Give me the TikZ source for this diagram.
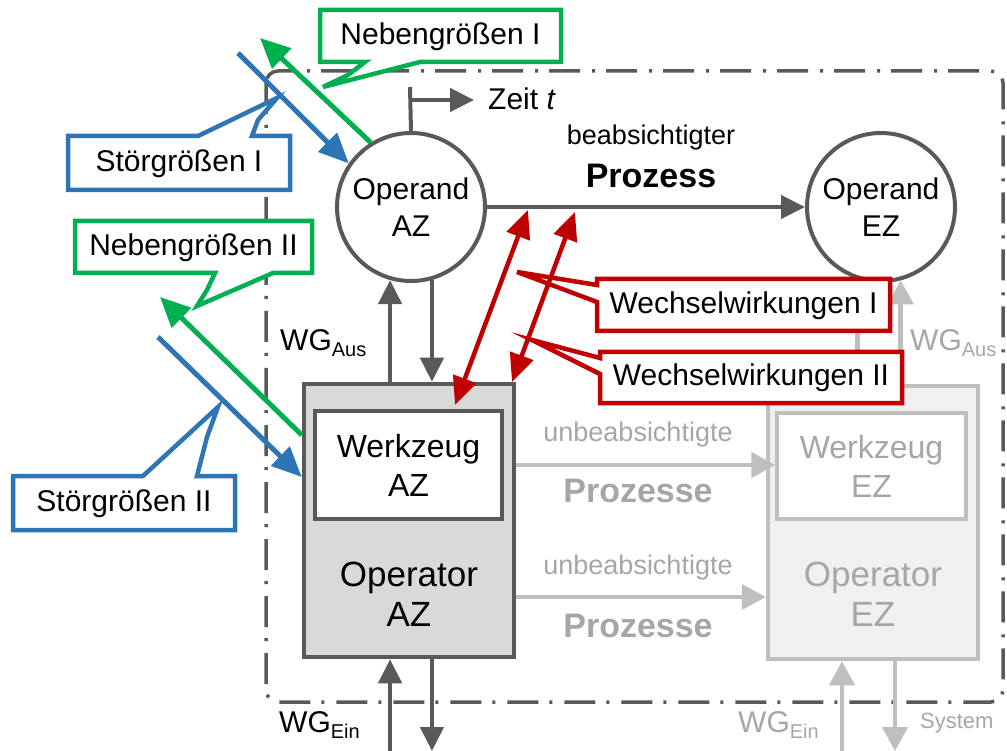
\documentclass[tikz,border=0pt]{standalone}
\usepackage{fontspec}
\setmainfont{Liberation Sans}
\usetikzlibrary{arrows.meta,calc}

\definecolor{dk}{HTML}{595959}
\definecolor{lt}{HTML}{BFBFBF}
\definecolor{lttext}{HTML}{A6A6A6}
\definecolor{blu}{HTML}{2E75B6}
\definecolor{grn}{HTML}{00B050}
\definecolor{rd}{HTML}{C00000}
\definecolor{fillAZ}{HTML}{D9D9D9}
\definecolor{fillEZ}{HTML}{F0F0F0}

\newcommand\wgsub[1]{{\fontsize{20}{24}\selectfont\raisebox{-6pt}{#1}}}

\tikzset{
  fA/.style={font=\fontsize{30}{37}\selectfont},
  fS/.style={font=\fontsize{27}{32}\selectfont},
  fB/.style={font=\fontsize{34}{40}\selectfont\bfseries},
  opcirc/.style={circle, draw=dk, line width=4pt, fill=white, minimum size=148pt,
    inner sep=0pt, align=center, fA},
  oprbox/.style={rectangle, draw=dk, line width=4.5pt, fill=fillAZ, minimum width=210pt,
    minimum height=273pt, inner sep=0pt},
  wzbox/.style={rectangle, draw=dk, line width=3.5pt, fill=white, minimum width=187pt,
    minimum height=108pt, inner sep=0pt, align=center, font=\fontsize{32}{39}\selectfont},
  sysline/.style={draw=dk, line width=3.5pt, rounded corners=12pt,
    dash pattern=on 31pt off 11pt on 3pt off 12pt},
  dkarr/.style={draw=dk, line width=4.5pt, -{Triangle[length=24pt,width=23pt]}},
  ltarr/.style={draw=lt, line width=4.5pt, -{Triangle[length=24pt,width=25pt]}},
  redarr/.style={draw=rd, line width=4.5pt,
    {Triangle[length=28pt,width=24pt]}-{Triangle[length=28pt,width=24pt]}},
  bluarr/.style={draw=blu, line width=5pt, -{Triangle[length=30pt,width=26pt]}},
  grnarr/.style={draw=grn, line width=5pt, -{Triangle[length=30pt,width=27pt]}},
  callB/.style={draw=blu, line width=4.5pt, fill=white, line join=miter},
  callG/.style={draw=grn, line width=4.5pt, fill=white, line join=miter},
  callR/.style={draw=rd, line width=4.5pt, fill=white, line join=miter},
  ctext/.style={fA, inner sep=0pt},
}

\begin{document}
\begin{tikzpicture}[x=1pt,y=-1pt]
\useasboundingbox (0,0) rectangle (1007,751);

% system boundary
\draw[sysline] (266,71) rectangle (1003,702);

% operands and operators
\node[opcirc] (opAZ) at (411,207) {Operand\\AZ};
\node[opcirc] (opEZ) at (881,207) {Operand\\EZ};

\node[oprbox] (oprAZ) at (409,520.5) {};
\node[wzbox] (wzAZ) at (408.5,465) {Werkzeug\\AZ};
\node[font=\fontsize{35}{40}\selectfont, align=center, inner sep=0pt] (oprAZtxt) at (409,594) {Operator\\AZ};

\node[oprbox, draw=lt, fill=fillEZ] (oprEZ) at (873,522.5) {};
\node[wzbox, draw=lt, text=lttext, minimum width=189pt, minimum height=106pt] (wzEZ) at (871.5,466) {Werkzeug\\EZ};
\node[font=\fontsize{35}{40}\selectfont, text=lttext, align=center, inner sep=0pt] (oprEZtxt) at (873,594) {Operator\\EZ};

% intended process and time axis
\draw[dkarr] (opAZ) -- (opEZ);
\coordinate (ztop) at (410,87);
\coordinate (zfork) at (410,100);
\coordinate (zend) at (474,100);
\draw[draw=dk, line width=4pt] (opAZ.north) -- (ztop);
\draw[dkarr] (zfork) -- (zend);
\node[fA, anchor=base west, inner sep=0pt] (zeit) at (488,110) {Zeit \textit{t}};
\node[fS, anchor=base, inner sep=0pt] (beab) at (651,145) {beabsichtigter};
\node[fB, anchor=base, inner sep=0pt] (proz) at (651,188) {Prozess};

% operand <-> operator flows
\coordinate (bot) at (0,751);
\draw[dkarr] (oprAZ.north -| opAZ.-106) -- (opAZ.-106);
\draw[dkarr] (opAZ.-74) -- (oprAZ.north -| opAZ.-74);
\draw[dkarr] (bot -| opAZ.-106) -- (oprAZ.south -| opAZ.-106);
\draw[dkarr] (oprAZ.south -| opAZ.-74) -- (bot -| opAZ.-74);

\draw[ltarr] (opEZ.-108.4) -- (oprEZ.north -| opEZ.-108.4);
\draw[ltarr] (oprEZ.north -| opEZ.-75.5) -- (opEZ.-75.5);
\coordinate (ezup) at (842,751);
\coordinate (ezdn) at (895,751);
\draw[ltarr] (ezup) -- (oprEZ.south -| ezup);
\draw[ltarr] (oprEZ.south -| ezdn) -- (ezdn);

% unintended processes
\coordinate (row2) at (0,597);
\draw[ltarr] (oprAZ.east |- wzAZ.east) -- (wzEZ.west |- wzAZ.east);
\draw[ltarr] (oprAZ.east |- row2) -- (oprEZ.west |- row2);
\node[fS, text=lttext, anchor=base, inner sep=0pt] (ub1) at (638,441) {unbeabsichtigte};
\node[fB, text=lttext, anchor=base, inner sep=0pt] (pz1) at (638,502) {Prozesse};
\node[fS, text=lttext, anchor=base, inner sep=0pt] (ub2) at (638,574) {unbeabsichtigte};
\node[fB, text=lttext, anchor=base, inner sep=0pt] (pz2) at (638,637) {Prozesse};

% interface quantities
\node[fA, anchor=base west, inner sep=0pt] (wgAusL) at (280,351) {WG\wgsub{Aus}};
\node[fA, anchor=base west, inner sep=0pt, text=lttext] (wgAusR) at (910,351) {WG\wgsub{Aus}};
\node[fA, anchor=base west, inner sep=0pt] (wgEinL) at (279,732) {WG\wgsub{Ein}};
\node[fA, anchor=base west, inner sep=0pt, text=lttext] (wgEinR) at (738,732) {WG\wgsub{Ein}};
\node[font=\fontsize{22}{26}\selectfont, text=lttext, anchor=base west, inner sep=0pt] (sys) at (920,728) {System};

% callouts
\draw[callG] (320,10) -- (561,10) -- (561,62) -- (420,62) -- (323,87) -- (348,75) -- (365,62) -- (320,62) -- cycle;
\node[ctext] (nbI) at (440.5,37) {Nebengrößen I};

\draw[callB] (68,136) -- (198,136) -- (277,98) -- (258,120) -- (252,136) -- (290,136) -- (290,190) -- (68,190) -- cycle;
\node[ctext] (stI) at (179,164) {Störgrößen I};

\draw[callG] (75,221) -- (312,221) -- (312,273) -- (273,273) -- (197,306) -- (207,290) -- (215,273) -- (75,273) -- cycle;
\node[ctext] (nbII) at (193.5,248) {Nebengrößen II};

\draw[callB] (13,476) -- (143,476) -- (218,407) -- (207,437) -- (197,476) -- (235,476) -- (235,530) -- (13,530) -- cycle;
\node[ctext] (stII) at (124,504) {Störgrößen II};

\draw[callR] (597,279) -- (890,279) -- (890,331) -- (597,331) -- (597,302) -- (517,272) -- (597,285) -- cycle;
\node[ctext] (wwI) at (743.5,306) {Wechselwirkungen I};

\draw[callR] (600,352) -- (902,352) -- (902,403) -- (600,403) -- (600,374) -- (532,340) -- (600,358) -- cycle;
\node[ctext] (wwII) at (751,378) {Wechselwirkungen II};

% interactions
\coordinate (r1a) at (455,405);
\coordinate (r1b) at (528,210);
\coordinate (r2a) at (512,382);
\coordinate (r2b) at (575,212);
\draw[redarr] (r1a) -- (r1b);
\draw[redarr] (r2a) -- (r2b);

% disturbances and side effects
\coordinate (sIfrom) at (238,53);
\coordinate (nIto) at (260,38);
\coordinate (sIIfrom) at (158,337);
\coordinate (sIIto) at (0,477);
\coordinate (nIIfrom) at (0,435);
\coordinate (nIIto) at (160,297);
\draw[bluarr] (sIfrom) -- (opAZ.145);
\draw[grnarr] (opAZ.122) -- (nIto);
\draw[bluarr] (sIIfrom) -- (oprAZ.west |- sIIto);
\draw[grnarr] (oprAZ.west |- nIIfrom) -- (nIIto);
\end{tikzpicture}
\end{document}
